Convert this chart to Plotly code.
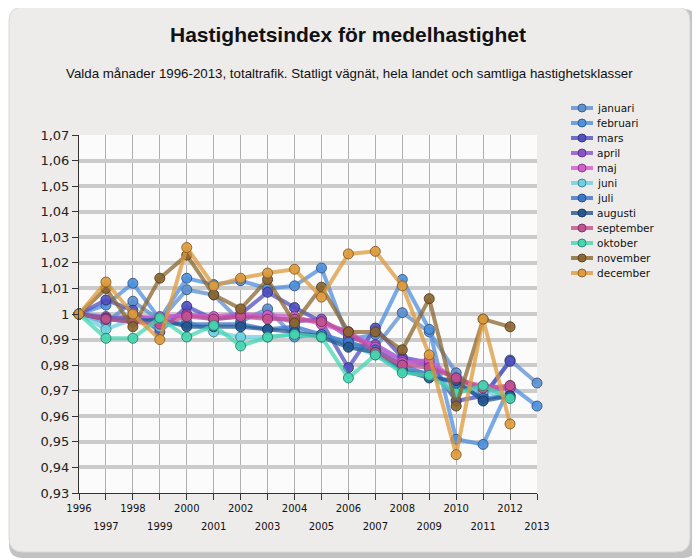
import plotly.graph_objects as go

years = list(range(1996, 2014))

series_names = ["januari", "februari", "mars", "april", "maj", "juni", "juli",
                "augusti", "september", "oktober", "november", "december"]

januari   = [1.000, 0.9965, 1.005, 0.9975, 1.0095, 1.0075, 0.997, 1.002, 0.991, 0.992, 0.988, 0.987, 1.0005, 0.993, 0.977, 0.967, 0.982, 0.973]
februari  = [1.000, 1.0035, 1.012, 0.998, 1.014, 1.0115, 1.013, 1.010, 1.011, 1.018, 0.990, 0.992, 1.0135, 0.994, 0.951, 0.949, 0.972, 0.964]
mars      = [1.000, 1.0055, 1.0015, 0.993, 1.003, 0.998, 1.000, 1.0085, 1.0025, 0.997, 0.979, 0.9945, 0.983, 0.981, 0.966, 0.968, 0.9815, None]
april     = [1.000, 0.998, 0.999, 0.998, 1.000, 0.998, 0.999, 0.999, 0.997, 0.998, 0.991, 0.988, 0.982, 0.980, 0.975, 0.970, 0.971, None]
maj       = [1.000, 0.999, 0.998, 0.999, 0.9995, 0.999, 1.000, 0.9995, 0.999, 0.996, 0.993, 0.987, 0.981, 0.982, 0.974, 0.972, 0.971, None]
juni      = [1.000, 0.994, 0.998, 0.995, 0.997, 0.993, 0.991, 0.991, 0.992, 0.992, 0.988, 0.984, 0.978, 0.977, 0.970, 0.970, 0.967, None]
juli      = [1.000, 0.9985, 0.998, 0.997, 0.996, 0.996, 0.996, 0.994, 0.995, 0.992, 0.989, 0.986, 0.980, 0.976, 0.973, 0.967, 0.968, None]
augusti   = [1.000, 0.998, 0.997, 0.998, 0.995, 0.995, 0.995, 0.994, 0.993, 0.991, 0.987, 0.985, 0.978, 0.975, 0.974, 0.966, 0.968, None]
september = [1.000, 0.998, 0.997, 0.996, 0.999, 0.998, 0.999, 0.998, 0.998, 0.997, 0.993, 0.985, 0.980, 0.979, 0.975, 0.971, 0.972, None]
oktober   = [1.000, 0.9905, 0.9905, 0.9985, 0.991, 0.9955, 0.9875, 0.991, 0.992, 0.991, 0.975, 0.984, 0.977, 0.976, 0.969, 0.972, 0.967, None]
november  = [1.000, 1.010, 0.995, 1.014, 1.023, 1.0075, 1.002, 1.0135, 0.9965, 1.0105, 0.993, 0.993, 0.986, 1.006, 0.964, 0.998, 0.995, None]
december  = [1.000, 1.0125, 1.000, 0.990, 1.026, 1.011, 1.014, 1.016, 1.0175, 1.0066, 1.0235, 1.0245, 1.011, 0.984, 0.945, 0.998, 0.957, None]

series_values = [januari, februari, mars, april, maj, juni, juli, augusti,
                 september, oktober, november, december]

colors = ["#5b8fcf", "#4d8fdd", "#4f4fc0", "#8a4fcc", "#d45ad0", "#6cd0e0",
          "#3b74c8", "#24568f", "#c2508f", "#45d6b0", "#8a6530", "#dd9a3c"]

y_tickvals = [0.93, 0.94, 0.95, 0.96, 0.97, 0.98, 0.99, 1.00, 1.01, 1.02, 1.03, 1.04, 1.05, 1.06, 1.07]
y_ticktext = ["0,93", "0,94", "0,95", "0,96", "0,97", "0,98", "0,99", "1",
              "1,01", "1,02", "1,03", "1,04", "1,05", "1,06", "1,07"]
x_even_text = [str(y) if y % 2 == 0 else "" for y in years]
odd_years = [y for y in years if y % 2 == 1]
odd_text = [str(y) for y in odd_years]

title = "Hastighetsindex för medelhastighet"
subtitle = "Valda månader 1996-2013, totaltrafik. Statligt vägnät, hela landet och samtliga hastighetsklasser"


def rgba(hexc, a):
    h = hexc.lstrip("#")
    r, g, b = int(h[0:2], 16), int(h[2:4], 16), int(h[4:6], 16)
    return f"rgba({r},{g},{b},{a})"


def darker(hexc, f=0.6):
    h = hexc.lstrip("#")
    r, g, b = int(h[0:2], 16), int(h[2:4], 16), int(h[4:6], 16)
    return f"rgba({int(r*f)},{int(g*f)},{int(b*f)},0.9)"


OFF = 8  # page body margin
W, H = 700 - OFF, 560 - OFF
L, R, T, B = 79 - OFF, 537 - OFF, 135 - OFF, 493 - OFF


def px(xs):  # screen x -> paper
    return (xs - OFF - L) / (R - L)


def py(ys):  # screen y -> paper
    return (B - (ys - OFF)) / (B - T)


def rounded_path(x0, y0, x1, y1, r):
    rx = r / (R - L)
    ry = r / (B - T)
    X0, X1 = px(x0), px(x1)
    Y0, Y1 = py(y0), py(y1)
    return (f"M {X0+rx},{Y0} L {X1-rx},{Y0} Q {X1},{Y0} {X1},{Y0-ry} "
            f"L {X1},{Y1+ry} Q {X1},{Y1} {X1-rx},{Y1} L {X0+rx},{Y1} "
            f"Q {X0},{Y1} {X0},{Y1+ry} L {X0},{Y0-ry} Q {X0},{Y0} {X0+rx},{Y0} Z")


fig = go.Figure()

for name, vals, c in zip(series_names, series_values, colors):
    fig.add_trace(go.Scatter(
        x=years, y=vals, name=name, mode="lines+markers",
        line=dict(color=rgba(c, 0.75), width=4),
        marker=dict(size=10, color=rgba(c, 0.9), line=dict(color=darker(c), width=1)),
        cliponaxis=False, showlegend=False, connectgaps=False,
    ))

# carrier trace for the second (odd-year label) axis
fig.add_trace(go.Scatter(x=[years[0]], y=[None], xaxis="x2", showlegend=False,
                         hoverinfo="skip", mode="markers"))

shapes = []
shapes.append(dict(type="path", xref="paper", yref="paper", layer="below",
                   path=rounded_path(9, 9, 697, 558, 14),
                   fillcolor="rgba(120,120,120,0.45)", line=dict(width=0)))
shapes.append(dict(type="path", xref="paper", yref="paper", layer="below",
                   path=rounded_path(9, 7, 690, 552, 14),
                   fillcolor="#edecea", line=dict(color="#d8d8d8", width=1)))
shapes.append(dict(type="rect", xref="paper", yref="paper", layer="below",
                   x0=0, x1=1, y0=0, y1=1, fillcolor="#fbfbfb", line=dict(width=0)))

annotations = []
for i, (name, c) in enumerate(zip(series_names, colors)):
    yy = py(108 + 15 * i)
    shapes.append(dict(type="line", xref="paper", yref="paper",
                       x0=px(571), x1=px(593), y0=yy, y1=yy,
                       line=dict(color=rgba(c, 0.8), width=4)))
    shapes.append(dict(type="circle", xref="paper", yref="paper",
                       xsizemode="pixel", ysizemode="pixel",
                       xanchor=px(582), yanchor=yy,
                       x0=-4, x1=4, y0=-4, y1=4,
                       fillcolor=rgba(c, 0.95), line=dict(color=darker(c), width=1)))
    annotations.append(dict(xref="paper", yref="paper", x=px(595), y=yy,
                            xanchor="left", yanchor="middle", showarrow=False,
                            text=name, font=dict(family="DejaVu Sans", size=10.5, color="#111")))

annotations.append(dict(xref="paper", yref="paper", x=px(349), y=py(73),
                        xanchor="center", yanchor="middle", showarrow=False,
                        text=subtitle,
                        font=dict(family="Liberation Sans", size=13.3, color="#111")))
annotations.append(dict(xref="paper", yref="paper", x=px(348), y=py(35),
                        xanchor="center", yanchor="middle", showarrow=False,
                        text="<b>" + title + "</b>",
                        font=dict(family="Liberation Sans", size=21, color="#111")))

fig.update_layout(
    width=W, height=H,
    margin=dict(l=L, r=W - R, t=T, b=H - B),
    paper_bgcolor="white", plot_bgcolor="rgba(0,0,0,0)",
    showlegend=False,
    shapes=shapes, annotations=annotations,
    xaxis=dict(range=[1996, 2013], tickvals=years, ticktext=x_even_text,
               showgrid=True, gridcolor="#b0b0b0", gridwidth=1,
               showline=True, linecolor="#333", linewidth=1,
               ticks="outside", ticklen=6, tickcolor="#333",
               tickfont=dict(family="DejaVu Sans", size=10, color="#111"),
               zeroline=False, fixedrange=True),
    xaxis2=dict(range=[1996, 2013], overlaying="x", side="bottom", anchor="y",
                tickvals=odd_years, ticktext=odd_text, showgrid=False,
                showline=False, ticks="", ticklabelstandoff=26,
                tickfont=dict(family="DejaVu Sans", size=10, color="#111"),
                zeroline=False),
    yaxis=dict(range=[0.93, 1.07], tickvals=y_tickvals, ticktext=y_ticktext,
               showgrid=True, gridcolor="#cbcbcb", gridwidth=4,
               showline=True, linecolor="#333", linewidth=1,
               ticks="outside", ticklen=6, tickcolor="#333",
               tickfont=dict(family="DejaVu Sans", size=13, color="#222"),
               zeroline=False),
)

fig.write_html("out.html")
